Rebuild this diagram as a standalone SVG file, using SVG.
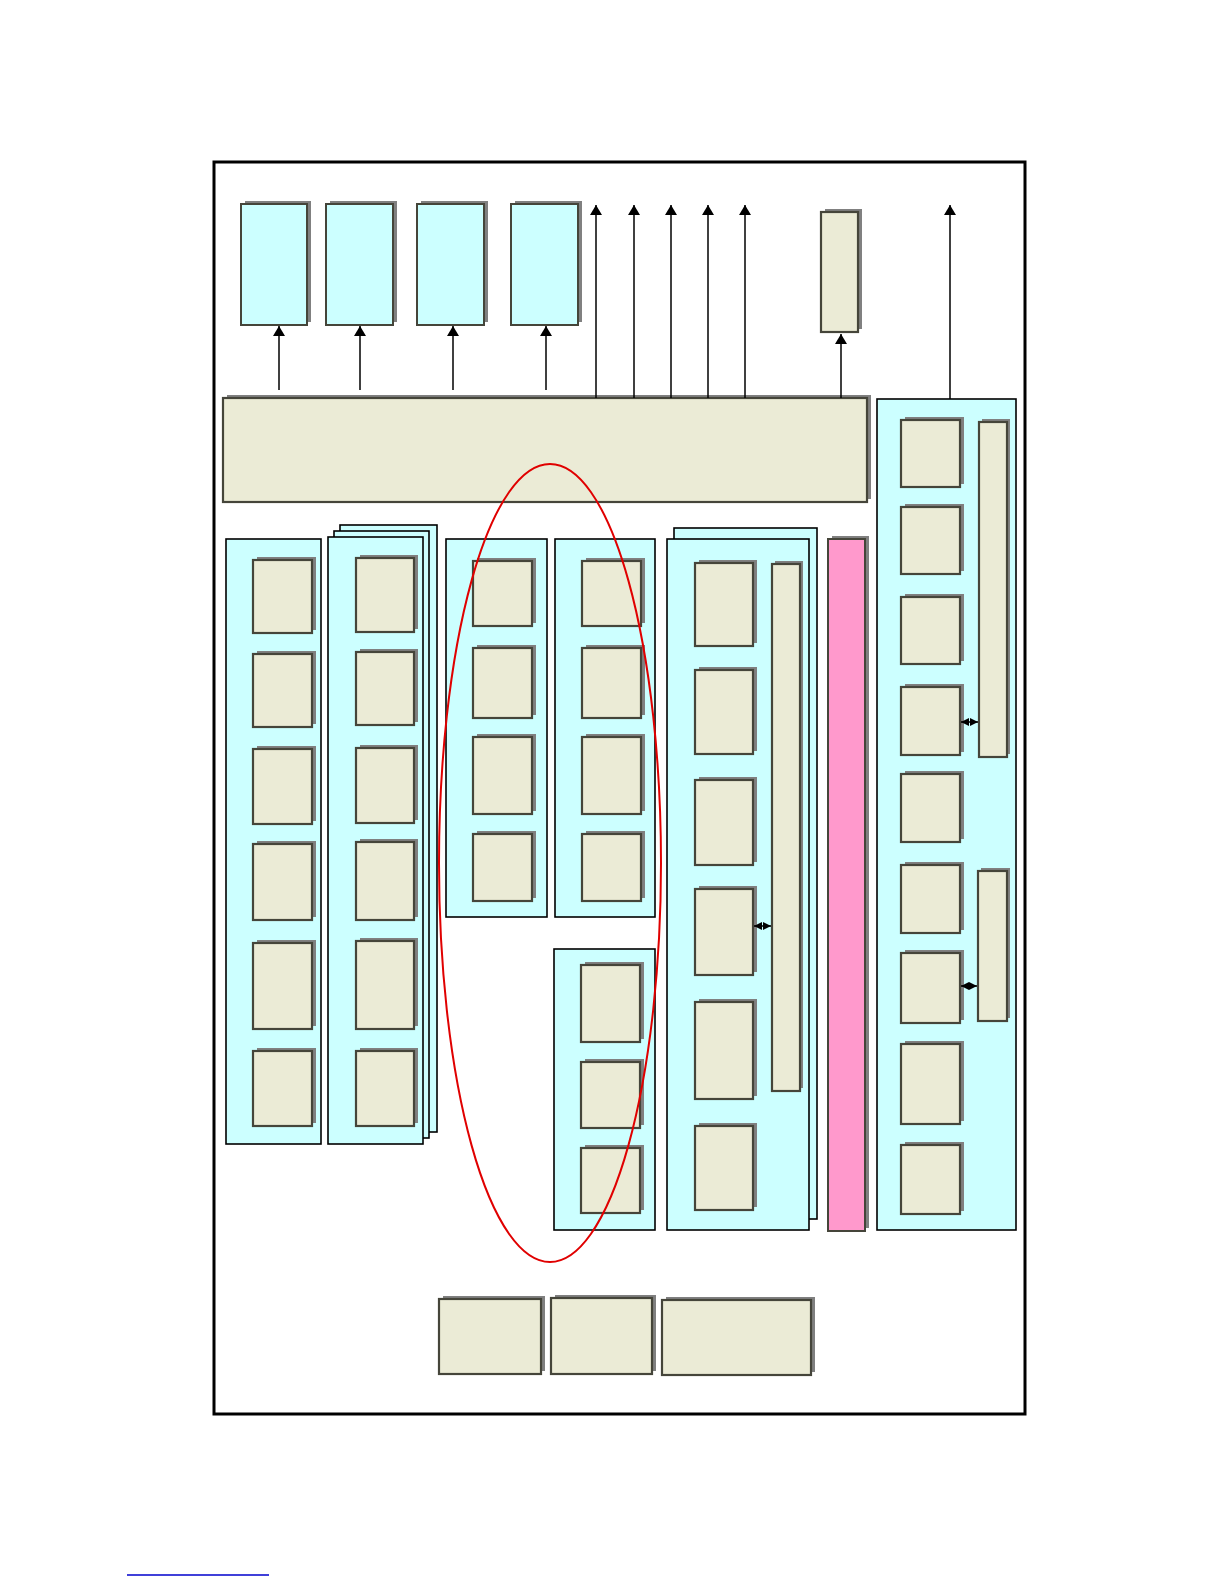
<svg xmlns="http://www.w3.org/2000/svg" width="1224" height="1584" viewBox="0 0 1224 1584">
<defs>
<style>
.sh{fill:#808080}
.bx{fill:#ebebd6;stroke:#45453a;stroke-width:2.2}
.tc{fill:#ccffff;stroke:#45453a;stroke-width:2}
.ct{fill:#ccffff;stroke:#000;stroke-width:1.6}
.pk{fill:#ff99cc;stroke:#45453a;stroke-width:2}
.ln{stroke:#000;stroke-width:1.5;fill:none}
</style>
<marker id="ah" viewBox="0 0 10 12" refX="10" refY="6" markerWidth="10" markerHeight="12" markerUnits="userSpaceOnUse" orient="auto">
<path d="M0,0 L10,6 L0,12 Z" fill="#000"/>
</marker>
<marker id="sa" viewBox="0 0 8 8" refX="8" refY="4" markerWidth="8" markerHeight="8" markerUnits="userSpaceOnUse" orient="auto-start-reverse">
<path d="M0,0 L8,4 L0,8 Z" fill="#000"/>
</marker>
</defs>
<rect width="1224" height="1584" fill="#fff"/>
<rect id="frame" x="214" y="162" width="811" height="1252" fill="none" stroke="#000" stroke-width="3"/>

<!-- top cyan boxes -->
<g id="top1"><rect class="sh" x="245" y="201" width="66" height="121"/><rect class="tc" x="241" y="204" width="66" height="121"/></g>
<g id="top2"><rect class="sh" x="330" y="201" width="67" height="121"/><rect class="tc" x="326" y="204" width="67" height="121"/></g>
<g id="top3"><rect class="sh" x="421" y="201" width="67" height="121"/><rect class="tc" x="417" y="204" width="67" height="121"/></g>
<g id="top4"><rect class="sh" x="515" y="201" width="67" height="121"/><rect class="tc" x="511" y="204" width="67" height="121"/></g>
<g id="top5"><rect class="sh" x="825" y="209" width="37" height="120"/><rect class="bx" x="821" y="212" width="37" height="120"/></g>

<!-- big bus box -->
<g id="bus"><rect class="sh" x="227" y="395" width="644" height="104"/><rect class="bx" x="223" y="398" width="644" height="104" stroke-width="1.2"/></g>

<!-- column 1 -->
<g id="col1">
<rect class="ct" x="226" y="539" width="95" height="605"/>
<rect class="sh" x="257" y="557" width="59" height="73"/><rect class="bx" x="253" y="560" width="59" height="73"/>
<rect class="sh" x="257" y="651" width="59" height="73"/><rect class="bx" x="253" y="654" width="59" height="73"/>
<rect class="sh" x="257" y="746" width="59" height="75"/><rect class="bx" x="253" y="749" width="59" height="75"/>
<rect class="sh" x="257" y="841" width="59" height="76"/><rect class="bx" x="253" y="844" width="59" height="76"/>
<rect class="sh" x="257" y="940" width="59" height="86"/><rect class="bx" x="253" y="943" width="59" height="86"/>
<rect class="sh" x="257" y="1048" width="59" height="75"/><rect class="bx" x="253" y="1051" width="59" height="75"/>
</g>

<!-- column 2 (stacked) -->
<g id="col2">
<rect class="ct" x="340" y="525" width="97" height="607"/>
<rect class="ct" x="334" y="531" width="95" height="607"/>
<rect class="ct" x="328" y="537" width="95" height="607"/>
<rect class="sh" x="360" y="555" width="58" height="74"/><rect class="bx" x="356" y="558" width="58" height="74"/>
<rect class="sh" x="360" y="649" width="58" height="73"/><rect class="bx" x="356" y="652" width="58" height="73"/>
<rect class="sh" x="360" y="745" width="58" height="75"/><rect class="bx" x="356" y="748" width="58" height="75"/>
<rect class="sh" x="360" y="839" width="58" height="78"/><rect class="bx" x="356" y="842" width="58" height="78"/>
<rect class="sh" x="360" y="938" width="58" height="88"/><rect class="bx" x="356" y="941" width="58" height="88"/>
<rect class="sh" x="360" y="1048" width="58" height="75"/><rect class="bx" x="356" y="1051" width="58" height="75"/>
</g>

<!-- column 3 -->
<g id="col3">
<rect class="ct" x="446" y="539" width="101" height="378"/>
<rect class="sh" x="477" y="558" width="59" height="65"/><rect class="bx" x="473" y="561" width="59" height="65"/>
<rect class="sh" x="477" y="645" width="59" height="70"/><rect class="bx" x="473" y="648" width="59" height="70"/>
<rect class="sh" x="477" y="734" width="59" height="77"/><rect class="bx" x="473" y="737" width="59" height="77"/>
<rect class="sh" x="477" y="831" width="59" height="67"/><rect class="bx" x="473" y="834" width="59" height="67"/>
</g>

<!-- column 4 -->
<g id="col4">
<rect class="ct" x="555" y="539" width="100" height="378"/>
<rect class="sh" x="586" y="558" width="59" height="65"/><rect class="bx" x="582" y="561" width="59" height="65"/>
<rect class="sh" x="586" y="645" width="59" height="70"/><rect class="bx" x="582" y="648" width="59" height="70"/>
<rect class="sh" x="586" y="734" width="59" height="77"/><rect class="bx" x="582" y="737" width="59" height="77"/>
<rect class="sh" x="586" y="831" width="59" height="67"/><rect class="bx" x="582" y="834" width="59" height="67"/>
</g>

<!-- column 4b -->
<g id="col4b">
<rect class="ct" x="554" y="949" width="101" height="281"/>
<rect class="sh" x="585" y="962" width="59" height="77"/><rect class="bx" x="581" y="965" width="59" height="77"/>
<rect class="sh" x="585" y="1059" width="59" height="66"/><rect class="bx" x="581" y="1062" width="59" height="66"/>
<rect class="sh" x="585" y="1145" width="59" height="65"/><rect class="bx" x="581" y="1148" width="59" height="65"/>
</g>

<!-- column 5 -->
<g id="col5">
<rect class="ct" x="674" y="528" width="143" height="691"/>
<rect class="ct" x="667" y="539" width="142" height="691"/>
<rect class="sh" x="699" y="560" width="58" height="83"/><rect class="bx" x="695" y="563" width="58" height="83"/>
<rect class="sh" x="699" y="667" width="58" height="84"/><rect class="bx" x="695" y="670" width="58" height="84"/>
<rect class="sh" x="699" y="777" width="58" height="85"/><rect class="bx" x="695" y="780" width="58" height="85"/>
<rect class="sh" x="699" y="886" width="58" height="86"/><rect class="bx" x="695" y="889" width="58" height="86"/>
<rect class="sh" x="699" y="999" width="58" height="97"/><rect class="bx" x="695" y="1002" width="58" height="97"/>
<rect class="sh" x="699" y="1123" width="58" height="84"/><rect class="bx" x="695" y="1126" width="58" height="84"/>
<rect class="sh" x="775" y="561" width="28" height="527"/><rect class="bx" x="772" y="564" width="28" height="527"/>
</g>

<!-- pink bar -->
<g id="pink"><rect class="sh" x="832" y="536" width="37" height="692"/><rect class="pk" x="828" y="539" width="37" height="692"/></g>

<!-- right column -->
<g id="right">
<rect class="ct" x="877" y="399" width="139" height="831"/>
<rect class="sh" x="905" y="417" width="59" height="67"/><rect class="bx" x="901" y="420" width="59" height="67"/>
<rect class="sh" x="905" y="504" width="59" height="67"/><rect class="bx" x="901" y="507" width="59" height="67"/>
<rect class="sh" x="905" y="594" width="59" height="67"/><rect class="bx" x="901" y="597" width="59" height="67"/>
<rect class="sh" x="905" y="684" width="59" height="68"/><rect class="bx" x="901" y="687" width="59" height="68"/>
<rect class="sh" x="905" y="771" width="59" height="68"/><rect class="bx" x="901" y="774" width="59" height="68"/>
<rect class="sh" x="905" y="862" width="59" height="68"/><rect class="bx" x="901" y="865" width="59" height="68"/>
<rect class="sh" x="905" y="950" width="59" height="70"/><rect class="bx" x="901" y="953" width="59" height="70"/>
<rect class="sh" x="905" y="1041" width="59" height="80"/><rect class="bx" x="901" y="1044" width="59" height="80"/>
<rect class="sh" x="905" y="1142" width="59" height="69"/><rect class="bx" x="901" y="1145" width="59" height="69"/>
<rect class="sh" x="982" y="419" width="28" height="335"/><rect class="bx" x="979" y="422" width="28" height="335"/>
<rect class="sh" x="981" y="868" width="29" height="150"/><rect class="bx" x="978" y="871" width="29" height="150"/>
</g>

<!-- bottom boxes -->
<g id="bot1"><rect class="sh" x="443" y="1296" width="102" height="75"/><rect class="bx" x="439" y="1299" width="102" height="75"/></g>
<g id="bot2"><rect class="sh" x="555" y="1295" width="101" height="76"/><rect class="bx" x="551" y="1298" width="101" height="76"/></g>
<g id="bot3"><rect class="sh" x="666" y="1297" width="149" height="75"/><rect class="bx" x="662" y="1300" width="149" height="75"/></g>

<!-- connectors -->
<g id="connectors">
<line class="ln" x1="279" y1="390" x2="279" y2="326" marker-end="url(#ah)"/>
<line class="ln" x1="360" y1="390" x2="360" y2="326" marker-end="url(#ah)"/>
<line class="ln" x1="453" y1="390" x2="453" y2="326" marker-end="url(#ah)"/>
<line class="ln" x1="546" y1="390" x2="546" y2="326" marker-end="url(#ah)"/>
<line class="ln" x1="596" y1="398" x2="596" y2="205" marker-end="url(#ah)"/>
<line class="ln" x1="634" y1="398" x2="634" y2="205" marker-end="url(#ah)"/>
<line class="ln" x1="671" y1="398" x2="671" y2="205" marker-end="url(#ah)"/>
<line class="ln" x1="708" y1="398" x2="708" y2="205" marker-end="url(#ah)"/>
<line class="ln" x1="745" y1="398" x2="745" y2="205" marker-end="url(#ah)"/>
<line class="ln" x1="841" y1="398" x2="841" y2="334" marker-end="url(#ah)"/>
<line class="ln" x1="950" y1="399" x2="950" y2="205" marker-end="url(#ah)"/>
<line class="ln" x1="754" y1="926" x2="771" y2="926" marker-start="url(#sa)" marker-end="url(#sa)"/>
<line class="ln" x1="961" y1="722" x2="978" y2="722" marker-start="url(#sa)" marker-end="url(#sa)"/>
<line class="ln" x1="961" y1="986" x2="977" y2="986" marker-start="url(#sa)" marker-end="url(#sa)"/>
</g>

<ellipse id="highlight" cx="550" cy="863" rx="111" ry="399" fill="none" stroke="#e00000" stroke-width="2"/>
<line id="underline" x1="127" y1="1575" x2="269" y2="1575" stroke="#0000cc" stroke-width="1.5"/>
</svg>
